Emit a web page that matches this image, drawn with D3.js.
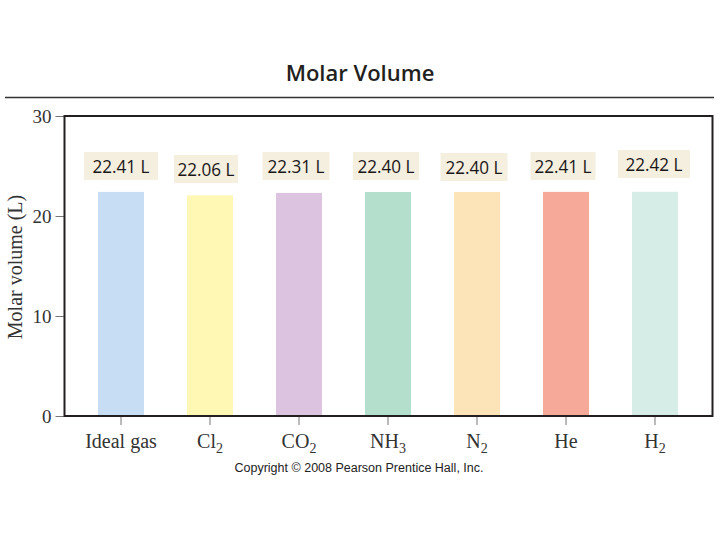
<!DOCTYPE html>
<html>
<head>
<meta charset="utf-8">
<script src="https://cdn.jsdelivr.net/npm/d3@7"></script>
<style>
  html, body { margin: 0; padding: 0; background: #fff; }
  svg { display: block; }
</style>
</head>
<body>
<svg id="chart" width="720" height="540"></svg>
<script>
// ---- data ----
const categories = ["Ideal gas", "Cl2", "CO2", "NH3", "N2", "He", "H2"];
const labelMain = ["Ideal gas", "Cl", "CO", "NH", "N", "He", "H"];
const labelSub = ["", "2", "2", "3", "2", "", "2"];
const values = [22.41, 22.06, 22.31, 22.40, 22.40, 22.41, 22.42];
const valueLabels = ["22.41 L", "22.06 L", "22.31 L", "22.40 L", "22.40 L", "22.41 L", "22.42 L"];
const yTicks = [0, 10, 20, 30];

// ---- styles / layout ----
const barColors = ["#c6ddf3", "#fff8b4", "#dcc4e0", "#b3dfcc", "#fde3b8", "#f6a998", "#d5ede6"];
const boxDy = [0, 3, 0, 0, 1, 0, -2];
const boxDx = [0, -4, -3, -2, -3, -3, -1];
const boxW = [74, 64, 67, 66, 67, 65, 72];

const svg = d3.select("#chart");
const plotL = 64.5, plotR = 712.5, plotT = 116, plotB = 416;

const x = d3.scaleBand()
  .domain(categories)
  .range([76.5, 699.5])
  .paddingInner(0.483)
  .paddingOuter(0.2415);

const y = d3.scaleLinear().domain([0, 30]).range([plotB, plotT]);

// title
svg.append("text")
  .attr("x", 360).attr("y", 81)
  .attr("text-anchor", "middle")
  .attr("font-family", "'Open Sans', 'Noto Sans', sans-serif")
  .attr("font-weight", 600)
  .attr("font-size", 22)
  .attr("fill", "#231f20")
  .text("Molar Volume");

// separator
svg.append("line")
  .attr("x1", 5).attr("x2", 714).attr("y1", 97.5).attr("y2", 97.5)
  .attr("stroke", "#333").attr("stroke-width", 1.6);

// bars
svg.append("g").selectAll("rect")
  .data(categories)
  .join("rect")
  .attr("x", d => x(d))
  .attr("width", x.bandwidth())
  .attr("y", (d, i) => y(values[i]))
  .attr("height", (d, i) => y(0) - y(values[i]))
  .attr("fill", (d, i) => barColors[i]);

// value label boxes
const lab = svg.append("g").selectAll("g")
  .data(categories)
  .join("g")
  .attr("transform", (d, i) => `translate(${x(d) + x.bandwidth() / 2 + boxDx[i]},${y(30) + 36 + boxDy[i]})`);
lab.append("rect")
  .attr("x", (d, i) => -boxW[i] / 2).attr("y", 0)
  .attr("width", (d, i) => boxW[i]).attr("height", 28)
  .attr("fill", "#f5efdf");
lab.append("text")
  .attr("transform", "translate(0,21) scale(0.9,1)")
  .attr("text-anchor", "middle")
  .attr("font-family", "'Open Sans', 'Noto Sans', sans-serif")
  .attr("font-size", 19)
  .attr("fill", "#1a1718")
  .text((d, i) => valueLabels[i]);

// y axis
const yAxis = svg.append("g")
  .attr("transform", `translate(${plotL},0)`)
  .call(d3.axisLeft(y).tickValues(yTicks).tickSize(9).tickPadding(4).tickFormat(d3.format("d")));
yAxis.select(".domain").remove();
yAxis.selectAll(".tick line").attr("stroke", "#777").attr("stroke-width", 1);
yAxis.selectAll(".tick text")
  .attr("font-family", "'Liberation Serif', 'DejaVu Serif', serif")
  .attr("font-size", 19)
  .attr("fill", "#333");

// x axis
const xAxis = svg.append("g")
  .attr("transform", `translate(0,${plotB})`)
  .call(d3.axisBottom(x).tickSize(9).tickPadding(8).tickFormat(() => ""));
xAxis.select(".domain").remove();
xAxis.selectAll(".tick line").attr("stroke", "#777").attr("stroke-width", 1);
xAxis.selectAll(".tick text").remove();
xAxis.selectAll(".tick").each(function (d, i) {
  const t = d3.select(this).append("text")
    .attr("y", 32)
    .attr("text-anchor", "middle")
    .attr("font-family", "'Liberation Serif', 'DejaVu Serif', serif")
    .attr("font-size", 20)
    .attr("fill", "#333");
  t.append("tspan").text(labelMain[i]);
  if (labelSub[i]) {
    t.append("tspan").attr("dy", 5).attr("font-size", 14).text(labelSub[i]);
  }
});

// frame
svg.append("rect")
  .attr("x", plotL).attr("y", plotT)
  .attr("width", plotR - plotL).attr("height", plotB - plotT)
  .attr("fill", "none")
  .attr("stroke", "#231f20").attr("stroke-width", 2);

// y axis title
svg.append("text")
  .attr("transform", "translate(22,267) rotate(-90)")
  .attr("text-anchor", "middle")
  .attr("font-family", "'Liberation Serif', 'DejaVu Serif', serif")
  .attr("font-size", 20)
  .attr("fill", "#333")
  .text("Molar volume (L)");

// copyright
svg.append("text")
  .attr("x", 359).attr("y", 472)
  .attr("text-anchor", "middle")
  .attr("font-family", "'Liberation Sans', Arial, sans-serif")
  .attr("font-size", 12.5)
  .attr("fill", "#222")
  .attr("textLength", 249)
  .text("Copyright © 2008 Pearson Prentice Hall, Inc.");
</script>
</body>
</html>
